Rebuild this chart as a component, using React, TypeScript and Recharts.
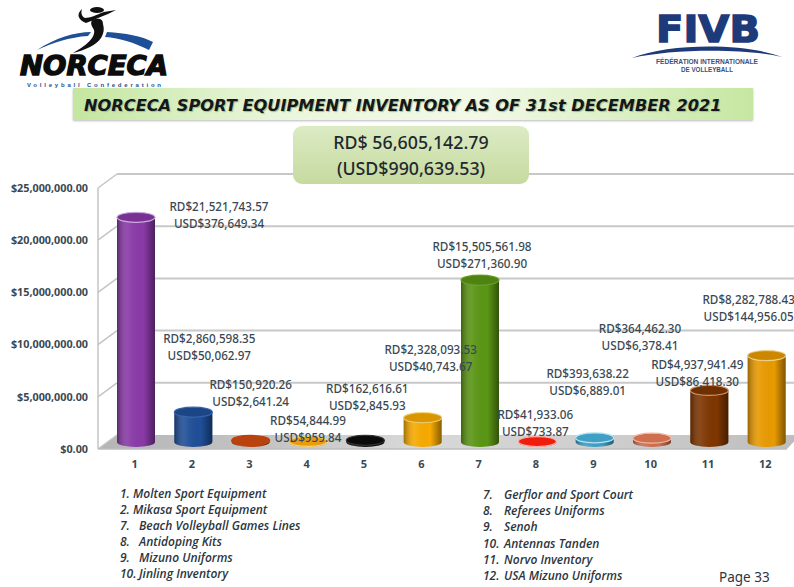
import { BarChart, Bar, XAxis, YAxis, CartesianGrid, LabelList } from "recharts";

const items = ["1", "2", "3", "4", "5", "6", "7", "8", "9", "10", "11", "12"];
const rdValues = [
  21521743.57, 2860598.35, 150920.26, 54844.99, 162616.61, 2328093.53,
  15505561.98, 41933.06, 393638.22, 364462.3, 4937941.49, 8282788.43,
];
const usdValues = [
  376649.34, 50062.97, 2641.24, 959.84, 2845.93, 40743.67,
  271360.9, 733.87, 6889.01, 6378.41, 86418.3, 144956.05,
];
const yTicks = [0, 5000000, 10000000, 15000000, 20000000, 25000000];
const barColors = [
  "#8a3aa8", "#1f4f98", "#b9430f", "#e89c10", "#0a0a0a", "#f7ab00",
  "#5a9614", "#f01c0c", "#3f9fc4", "#cf6f50", "#7f3600", "#e99a00",
];
const rimColors = [
  "#d6b4e6", "#3a6cb8", "#b9430f", "#f6d27a", "#333333", "#f8d878",
  "#6fa82a", "#f7b0a8", "#b5e3f2", "#f0b8a4", "#d9a070", "#f8d890",
];
// where each value label sits, relative to the top centre of its bar
const labelOffsets = [
  [83, -18], [16, -81], [0, -63], [0, -28], [2, -59], [8, -76],
  [2, -41], [-2, -35], [-7, -72], [-12, -117], [-12, -33], [-18, -64],
];
const legendLeft = [
  ["1.", "Molten Sport Equipment", 13],
  ["2.", "Mikasa Sport Equipment", 13],
  ["7.", "Beach Volleyball Games Lines", 19],
  ["8.", "Antidoping Kits", 19],
  ["9.", "Mizuno Uniforms", 19],
  ["10.", "Jinling Inventory", 19],
];
const legendRight = [
  ["7.", "Gerflor and Sport Court"],
  ["8.", "Referees Uniforms"],
  ["9.", "Senoh"],
  ["10.", "Antennas Tanden"],
  ["11.", "Norvo Inventory"],
  ["12.", "USA Mizuno Uniforms"],
];

const chartData = items.map((name, i) => ({ name, value: rdValues[i], usd: usdValues[i] }));

const DEPTH_X = 19;
const DEPTH_Y = 14;
const BAR_LIFT = 7;
const textColor = "#3a4852";

function money(v: number) {
  return v.toLocaleString("en-US", { minimumFractionDigits: 2, maximumFractionDigits: 2 });
}

function WallLine(props: any) {
  const { x1, x2, y1, index } = props;
  const isFloor = y1 > 440;
  const backX = x1 + DEPTH_X;
  const backY = y1 - DEPTH_Y;
  return (
    <g key={index}>
      {isFloor && (
        <polygon
          points={`${x1},${y1} ${backX},${backY} ${x2},${backY} 787,${y1}`}
          fill="url(#floorShade)"
        />
      )}
      <line x1={x1} y1={y1} x2={backX} y2={backY} stroke="#c4c4c4" strokeWidth={1.5} />
      <line x1={backX} y1={backY} x2={x2} y2={backY} stroke="#c8c8c8" strokeWidth={isFloor ? 0 : 2} />
      {isFloor && <line x1={x1} y1={y1} x2={787} y2={y1} stroke="#bdbdbd" strokeWidth={1.5} />}
    </g>
  );
}

function Cylinder(props: any) {
  const { x, y, width, height, index } = props;
  const rx = width / 2;
  const ry = 5;
  const cx = x + rx;
  const top = y - BAR_LIFT;
  const base = y + height - BAR_LIFT;
  const body = `M${x},${top} L${x},${base} A${rx},${ry} 0 0 0 ${x + width},${base} L${x + width},${top} Z`;
  const color = barColors[index];
  return (
    <g>
      <path d={body} fill={color} />
      <path d={body} fill="url(#cylShade)" />
      <ellipse cx={cx} cy={top} rx={rx} ry={ry} fill={color} stroke={rimColors[index]} strokeWidth={1.2} />
      {height > 10 && <ellipse cx={cx} cy={top} rx={rx} ry={ry} fill="#000" fillOpacity={0.12} />}
    </g>
  );
}

function ValueLabel(props: any) {
  const { x, y, width, index } = props;
  const [dx, dy] = labelOffsets[index];
  const cx = x + width / 2 + dx;
  const top = y + dy;
  const style = { fontFamily: "'Noto Sans'", fontSize: 11.7, fill: textColor, fontWeight: 500 };
  return (
    <g>
      <text x={cx} y={top} textAnchor="middle" dominantBaseline="central" {...style}>
        RD${money(rdValues[index])}
      </text>
      <text x={cx} y={top + 17} textAnchor="middle" dominantBaseline="central" {...style}>
        USD${money(usdValues[index])}
      </text>
    </g>
  );
}

function Logos() {
  return (
    <svg width={794} height={90} style={{ position: "absolute", left: 0, top: 0 }}>
      <path d="M37,50 C55,38 75,32 91,32 L88,36 C70,37 52,43 37,50 Z" fill="#1f4f96" />
      <path d="M107,32 C125,33 142,36 153,42 L149,50 C135,43 120,38 105,37 Z" fill="#1f4f96" />
      <ellipse cx={97} cy={10} rx={7} ry={3} fill="#111" />
      <path d="M82,9 C76,14 78,20 86,23 C94,20 100,17 108,14 L116,10 L104,12 C96,15 90,18 85,18 C81,16 81,12 82,9 Z" fill="#111" />
      <path d="M92,20 C98,18 103,18 103,24 C106,34 100,42 90,47 C84,50 78,52 73,53 C84,47 96,38 94,30 C92,26 90,24 92,20 Z" fill="#111" />
      <text x={20} y={75} textLength={148} lengthAdjust="spacingAndGlyphs" fontFamily="'DejaVu Sans'" fontWeight={700} fontStyle="italic" fontSize={27} fill="#0c0c0c" stroke="#0c0c0c" strokeWidth={1.4}>
        NORCECA
      </text>
      <text x={27} y={87} textLength={134} lengthAdjust="spacing" fontFamily="'Liberation Sans'" fontWeight={700} fontSize={6} fill="#1f4f96">
        Volleyball  Confederation
      </text>

      <text x={656} y={42} textLength={104} lengthAdjust="spacingAndGlyphs" fontFamily="'DejaVu Sans'" fontWeight={700} fontSize={38} fill="#1d3a7a" stroke="#1d3a7a" strokeWidth={1.4}>
        FIVB
      </text>
      <path d="M632,58 C670,43 745,43 782,57 C745,48 670,49 632,58 Z" fill="#1d3a7a" />
      <text x={707} y={64} textAnchor="middle" textLength={102} lengthAdjust="spacingAndGlyphs" fontFamily="'Liberation Sans'" fontWeight={700} fontSize={6.5} fill="#3d4f7c">
        FÉDÉRATION INTERNATIONALE
      </text>
      <text x={707} y={72} textAnchor="middle" textLength={52} lengthAdjust="spacingAndGlyphs" fontFamily="'Liberation Sans'" fontWeight={700} fontSize={6.5} fill="#3d4f7c">
        DE VOLLEYBALL
      </text>
    </svg>
  );
}

function LegendColumn({ rows, left, top, step, gap }: { rows: any[]; left: number; top: number; step: number; gap: number }) {
  return (
    <>
      {rows.map((row, i) => (
        <div
          key={i}
          style={{
            position: "absolute",
            left,
            top: top + i * step,
            whiteSpace: "nowrap",
            fontFamily: "'Open Sans'",
            fontStyle: "italic",
            fontWeight: 600,
            fontSize: 12,
            lineHeight: "14px",
            color: "#2c3640",
          }}
        >
          <span>{row[0]}</span>
          <span style={{ position: "absolute", left: row[2] ?? gap }}>{row[1]}</span>
        </div>
      ))}
    </>
  );
}

export default function App() {
  return (
    <div
      style={{
        position: "absolute",
        left: 0,
        top: 0,
        width: 794,
        height: 587,
        overflow: "hidden",
        background: "#fff",
      }}
    >
      <BarChart
        width={818}
        height={587}
        data={chartData}
        margin={{ top: 188, right: 18, bottom: 108, left: 0 }}
        barCategoryGap={0}
        style={{ position: "absolute", left: 0, top: 0 }}
      >
        <defs>
          <linearGradient id="cylShade" x1="0" y1="0" x2="1" y2="0">
            <stop offset="0%" stopColor="#000" stopOpacity={0.35} />
            <stop offset="30%" stopColor="#fff" stopOpacity={0.08} />
            <stop offset="70%" stopColor="#000" stopOpacity={0} />
            <stop offset="100%" stopColor="#000" stopOpacity={0.45} />
          </linearGradient>
          <linearGradient id="floorShade" x1="0" y1="0" x2="1" y2="0">
            <stop offset="0%" stopColor="#b5b5b5" />
            <stop offset="25%" stopColor="#c4c4c4" />
            <stop offset="45%" stopColor="#d8d8d8" />
            <stop offset="70%" stopColor="#cfcfcf" />
            <stop offset="100%" stopColor="#bdbdbd" />
          </linearGradient>
        </defs>
        <CartesianGrid horizontal={WallLine as any} vertical={false} />
        <XAxis
          dataKey="name"
          axisLine={false}
          tickLine={false}
          height={30}
          padding={{ left: 9, right: 5 }}
          tickMargin={5}
          tick={{ fontSize: 11, fontWeight: 700, fill: textColor, fontFamily: "'Noto Sans'", dx: -1 }}
        />
        <YAxis
          width={98}
          domain={[0, 25000000]}
          ticks={yTicks}
          interval={0}
          axisLine={{ stroke: "#c4c4c4", strokeWidth: 1.5 }}
          tickLine={false}
          tickMargin={4}
          tickFormatter={(v: number) => `$${money(v)}`}
          tick={{ fontSize: 10.8, fontWeight: 700, fill: textColor, fontFamily: "'Noto Sans'" }}
        />
        <Bar dataKey="value" barSize={38} shape={Cylinder as any} isAnimationActive={false}>
          <LabelList dataKey="value" content={ValueLabel as any} />
        </Bar>
      </BarChart>

      <Logos />

      <div
        style={{
          position: "absolute",
          left: 73,
          top: 88,
          width: 680,
          height: 32,
          paddingLeft: 11,
          boxSizing: "border-box",
          background: "linear-gradient(90deg,#c4e6a0 0%,#eaf6dc 30%,#f2f9e8 60%,#c6e7a2 100%)",
          boxShadow: "0 1px 2px #bbb",
          fontFamily: "'DejaVu Sans'",
          fontWeight: 700,
          fontStyle: "italic",
          fontSize: 16.2,
          lineHeight: "35px",
          whiteSpace: "nowrap",
          color: "#12181c",
          textShadow: "1px 1px 1px #a3b98c",
        }}
      >
        NORCECA SPORT EQUIPMENT INVENTORY AS OF 31st DECEMBER 2021
      </div>
      <div
        style={{
          position: "absolute",
          left: 293,
          top: 126,
          width: 236,
          height: 58,
          borderRadius: 9,
          background: "linear-gradient(180deg,#dcebc4 0%,#c6da9f 100%)",
          fontFamily: "'Noto Sans'",
          fontSize: 17.8,
          fontWeight: 500,
          lineHeight: "26px",
          paddingTop: 3,
          boxSizing: "border-box",
          textAlign: "center",
          color: "#1f2830",
        }}
      >
        <div>RD$ 56,605,142.79</div>
        <div>(USD$990,639.53)</div>
      </div>

      <LegendColumn rows={legendLeft} left={120} top={487} step={15.9} gap={17} />
      <LegendColumn rows={legendRight} left={483} top={488} step={16.2} gap={21} />
      <div
        style={{
          position: "absolute",
          left: 719,
          top: 568,
          fontFamily: "'Noto Sans'",
          fontSize: 13.5,
          lineHeight: "18px",
          color: "#2c3640",
        }}
      >
        Page 33
      </div>
    </div>
  );
}
